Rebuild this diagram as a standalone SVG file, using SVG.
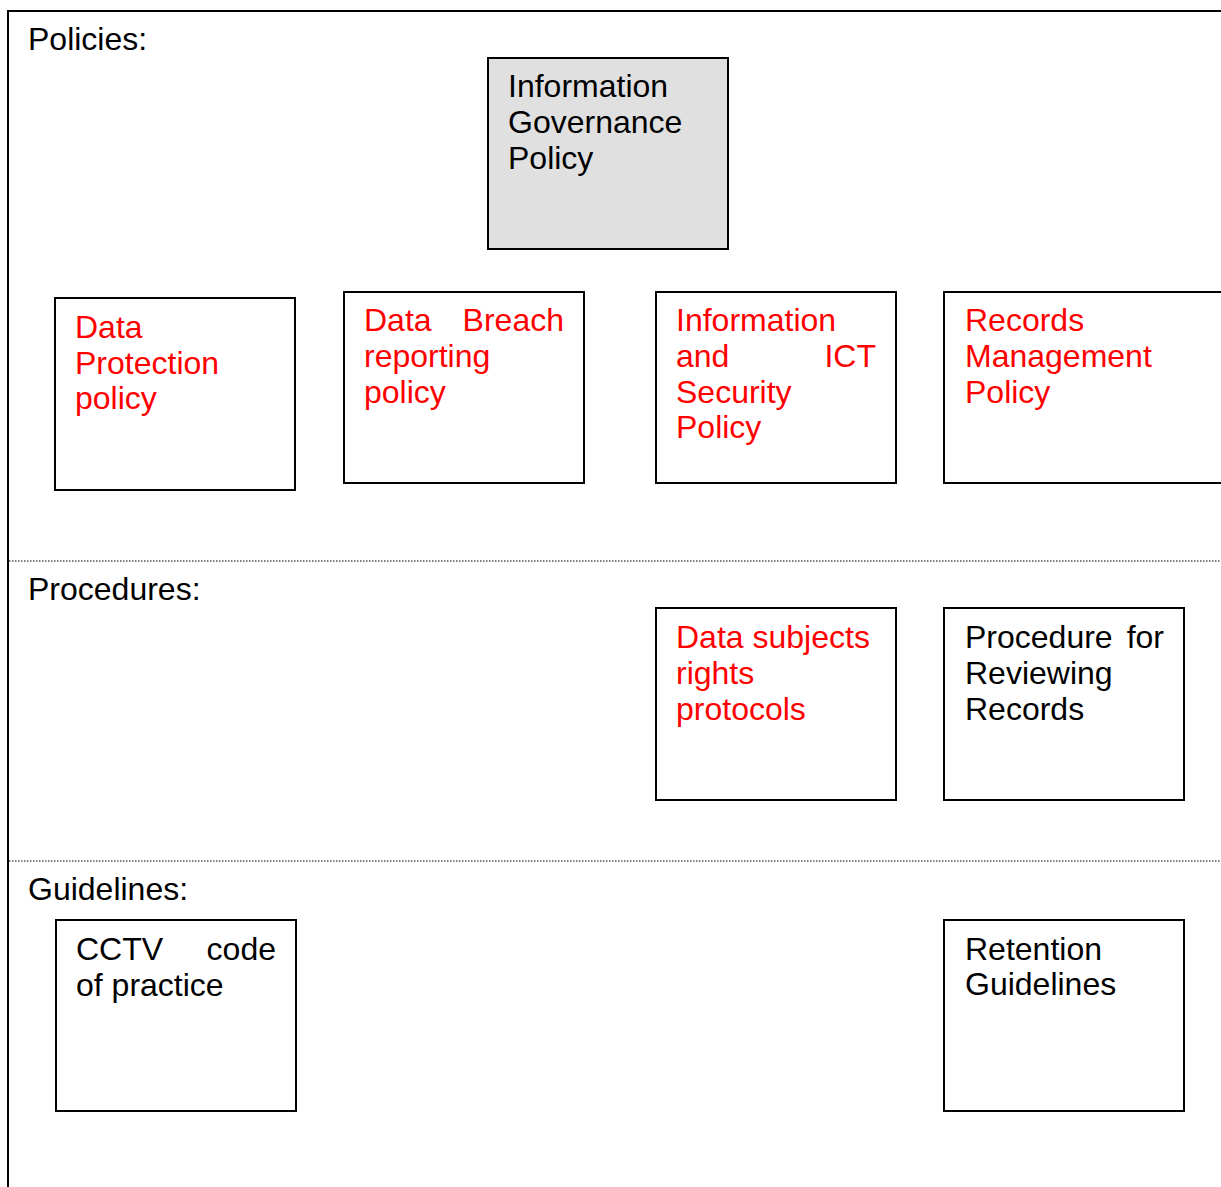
<svg xmlns="http://www.w3.org/2000/svg" width="1221" height="1187" viewBox="0 0 1221 1187">
<style>
text{font-family:"Liberation Sans",Arial,sans-serif;font-size:32px;fill:#000}
.r{fill:#ff0000}
.box{fill:#fff;stroke:#000;stroke-width:2}
.e{text-anchor:end}
.dot{stroke:#555;stroke-width:1.3;stroke-dasharray:1.5,1.5;fill:none}
</style>
<rect x="0" y="0" width="1221" height="1187" fill="#fff"/>
<g id="frame">
<line x1="8" y1="11" x2="1221" y2="11" stroke="#000" stroke-width="2"/>
<line x1="8" y1="10" x2="8" y2="1187" stroke="#000" stroke-width="2"/>
</g>
<g id="connectors">
<line class="dot" x1="9" y1="561" x2="1221" y2="561"/>
<line class="dot" x1="9" y1="861" x2="1221" y2="861"/>
</g>
<g id="labels">
<text x="28" y="50">Policies:</text>
<text x="28" y="600">Procedures:</text>
<text x="28" y="900">Guidelines:</text>
</g>
<g id="ig">
<rect x="488" y="58" width="240" height="191" fill="#e0e0e0" stroke="#000" stroke-width="2"/>
<text x="508" y="97">Information</text>
<text x="508" y="133">Governance</text>
<text x="508" y="169">Policy</text>
</g>
<g id="dp">
<rect class="box" x="55" y="298" width="240" height="192"/>
<text class="r" x="75" y="338">Data</text>
<text class="r" x="75" y="374">Protection</text>
<text class="r" x="75" y="409">policy</text>
</g>
<g id="db">
<rect class="box" x="344" y="292" width="240" height="191"/>
<text class="r" x="364" y="331">Data</text>
<text class="r e" x="564" y="331">Breach</text>
<text class="r" x="364" y="367">reporting</text>
<text class="r" x="364" y="403">policy</text>
</g>
<g id="is">
<rect class="box" x="656" y="292" width="240" height="191"/>
<text class="r" x="676" y="331">Information</text>
<text class="r" x="676" y="367">and</text>
<text class="r e" x="876" y="367">ICT</text>
<text class="r" x="676" y="403">Security</text>
<text class="r" x="676" y="438">Policy</text>
</g>
<g id="rm">
<rect class="box" x="944" y="292" width="290" height="191"/>
<text class="r" x="965" y="331">Records</text>
<text class="r" x="965" y="367">Management</text>
<text class="r" x="965" y="403">Policy</text>
</g>
<g id="dsr">
<rect class="box" x="656" y="608" width="240" height="192"/>
<text class="r" x="676" y="648">Data subjects</text>
<text class="r" x="676" y="684">rights</text>
<text class="r" x="676" y="720">protocols</text>
</g>
<g id="prr">
<rect class="box" x="944" y="608" width="240" height="192"/>
<text x="965" y="648">Procedure</text>
<text class="e" x="1164" y="648">for</text>
<text x="965" y="684">Reviewing</text>
<text x="965" y="720">Records</text>
</g>
<g id="cctv">
<rect class="box" x="56" y="920" width="240" height="191"/>
<text x="76" y="960">CCTV</text>
<text class="e" x="276" y="960">code</text>
<text x="76" y="996">of practice</text>
</g>
<g id="rg">
<rect class="box" x="944" y="920" width="240" height="191"/>
<text x="965" y="960">Retention</text>
<text x="965" y="995">Guidelines</text>
</g>
</svg>
